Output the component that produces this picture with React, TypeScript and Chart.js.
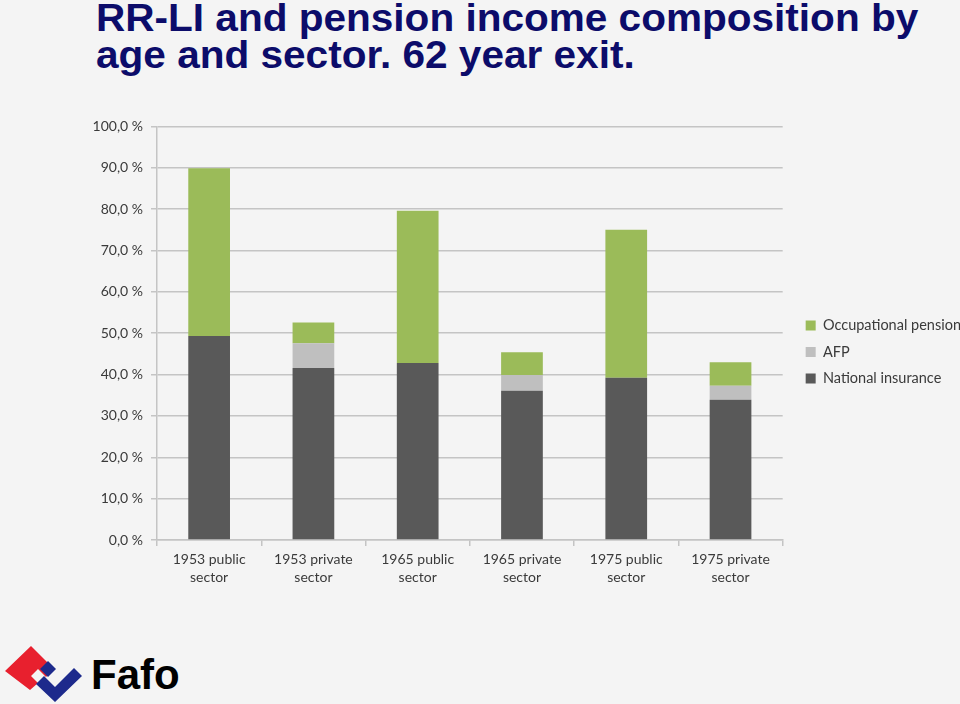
import React, { useEffect, useRef } from "react";
import { Chart, registerables } from "chart.js";

Chart.register(...registerables);

const categories: string[][] = [
  ["1953 public", "sector"],
  ["1953 private", "sector"],
  ["1965 public", "sector"],
  ["1965 private", "sector"],
  ["1975 public", "sector"],
  ["1975 private", "sector"],
];
const nationalInsurance = [49.3, 41.6, 42.8, 36.1, 39.2, 33.9];
const afp = [0, 6.0, 0, 3.8, 0, 3.4];
const occupationalPension = [40.6, 5.0, 36.8, 5.5, 35.8, 5.7];
const yTickLabels = ["0,0 %", "10,0 %", "20,0 %", "30,0 %", "40,0 %", "50,0 %", "60,0 %", "70,0 %", "80,0 %", "90,0 %", "100,0 %"];

const tickFont = { family: "Lato, 'Open Sans', sans-serif", size: 14 };
const tickColor = "#3a3a3a";
const gridColor = "#c4c4c4";

const legendShift = {
  id: "legendShift",
  afterLayout(chart: any) {
    const lg = chart.legend;
    if (lg) {
      lg.left += 11;
      lg.right += 11;
    }
  },
};

export default function App() {
  const canvasRef = useRef<HTMLCanvasElement | null>(null);

  useEffect(() => {
    const ctx = canvasRef.current!;
    const chart = new Chart(ctx, {
      type: "bar",
      data: {
        labels: categories,
        datasets: [
          { label: "National insurance", data: nationalInsurance, backgroundColor: "#595959" },
          { label: "AFP", data: afp, backgroundColor: "#bfbfbf" },
          { label: "Occupational pension", data: occupationalPension, backgroundColor: "#9bbb59" },
        ],
      },
      plugins: [legendShift],
      options: {
        animation: false,
        responsive: false,
        maintainAspectRatio: false,
        layout: { padding: { top: 14, right: 0, left: 0, bottom: 0 } },
        datasets: { bar: { barPercentage: 0.4, categoryPercentage: 1 } },
        plugins: {
          tooltip: { enabled: false },
          legend: {
            position: "right",
            reverse: true,
            align: "center",
            fullSize: false,
            title: { display: true, text: " ", padding: { top: 22, bottom: 0 }, font: { size: 13 } },
            labels: {
              boxWidth: 10,
              boxHeight: 10,
              padding: 12,
              color: tickColor,
              font: { ...tickFont, size: 14.5 },
            },
          },
        },
        scales: {
          x: {
            stacked: true,
            offset: true,
            grid: {
              display: true,
              offset: true,
              drawOnChartArea: false,
              drawTicks: true,
              tickLength: 6,
              color: gridColor,
              lineWidth: 1.5,
            },
            border: { display: true, color: gridColor, width: 1.5 },
            ticks: { color: tickColor, font: { ...tickFont, lineHeight: 1.3 }, padding: 4, maxRotation: 0, autoSkip: false },
            afterFit: (s: any) => { s.height = 60; },
          },
          y: {
            stacked: true,
            min: 0,
            max: 100,
            grid: { color: gridColor, lineWidth: 1.5, tickLength: 6, drawTicks: true },
            border: { display: true, color: gridColor, width: 1.5 },
            ticks: {
              stepSize: 10,
              color: tickColor,
              font: tickFont,
              padding: 8,
              callback: (_v: any, i: number) => yTickLabels[i],
            },
            afterFit: (s: any) => { s.width = 67; },
          },
        },
      },
    });
    return () => chart.destroy();
  }, []);

  return (
    <div style={{ position: "absolute", left: 0, top: 0, width: 960, height: 704, background: "#f4f4f4", overflow: "hidden" }}>
      <div
        style={{
          position: "absolute",
          left: 96,
          top: 0,
          fontFamily: "'Liberation Sans', Arial, sans-serif",
          fontWeight: "bold",
          fontSize: 38,
          lineHeight: "37px",
          color: "#0c0c6a",
          whiteSpace: "nowrap",
          transform: "scaleX(1.067)",
          transformOrigin: "0 0",
        }}
      >
        RR-LI and pension income composition by
        <br />
        age and sector. 62 year exit.
      </div>
      <canvas ref={canvasRef} width={870} height={490} style={{ position: "absolute", left: 90, top: 110, width: 870, height: 490 }} />
      <svg width={90} height={64} style={{ position: "absolute", left: 0, top: 640 }} viewBox="0 640 90 64">
        <polygon points="5,671 31,646 54,669 46,677 38,669 31,676 38,683 30,690" fill="#e8202e" />
        <polygon points="36,684 44,676 55,687 74,668 82,676 55,702" fill="#1d2a8c" />
        <polygon points="40,669 48,661 56,669 48,677" fill="#1d2a8c" />
      </svg>
      <div
        style={{
          position: "absolute",
          left: 91,
          top: 651,
          fontFamily: "'Liberation Sans', Arial, sans-serif",
          fontWeight: "bold",
          fontSize: 42,
          lineHeight: "48px",
          color: "#000",
        }}
      >
        Fafo
      </div>
    </div>
  );
}
